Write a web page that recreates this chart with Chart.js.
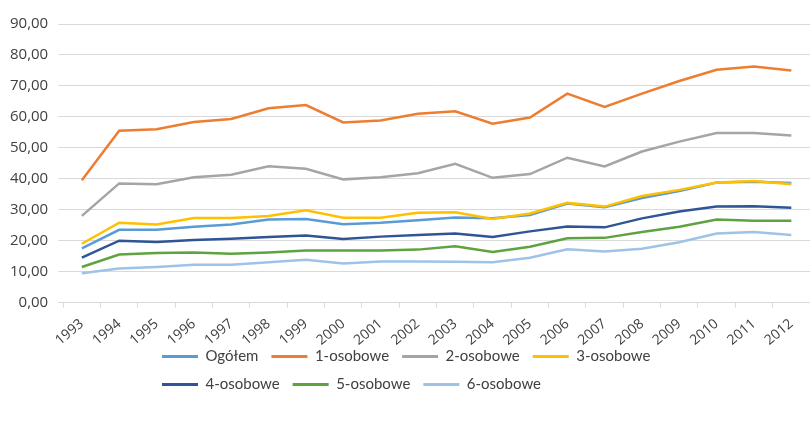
<!DOCTYPE html>
<html>
<head>
<meta charset="utf-8">
<style>
  html, body { margin: 0; padding: 0; background: #fff; }
  #wrap { width: 810px; height: 424px; }
</style>
</head>
<body>
<div id="wrap"><canvas id="myChart"></canvas></div>
<script src="https://cdn.jsdelivr.net/npm/chart.js@4/dist/chart.umd.min.js"></script>
<script>
const years = ['1993', '1994', '1995', '1996', '1997', '1998', '1999', '2000', '2001', '2002',
               '2003', '2004', '2005', '2006', '2007', '2008', '2009', '2010', '2011', '2012'];

const ogolem = [17.5, 23.5, 23.5, 24.5, 25.2, 26.8, 27.0, 25.3, 25.8, 26.6,
                27.5, 27.2, 28.3, 32.0, 30.8, 33.8, 36.0, 38.8, 39.0, 38.6];
const osob1 = [39.5, 55.5, 56.0, 58.3, 59.3, 62.8, 63.8, 58.2, 58.8, 61.0,
               61.8, 57.8, 59.8, 67.5, 63.2, 67.5, 71.6, 75.2, 76.3, 75.0];
const osob2 = [28.0, 38.5, 38.2, 40.5, 41.3, 44.0, 43.2, 39.8, 40.5, 41.8,
               44.8, 40.3, 41.5, 46.8, 44.0, 48.8, 52.0, 54.8, 54.8, 54.0];
const osob3 = [19.0, 25.8, 25.2, 27.3, 27.3, 28.0, 29.8, 27.4, 27.4, 29.0,
               29.2, 27.0, 28.8, 32.2, 31.0, 34.4, 36.4, 38.8, 39.3, 38.2];
const osob4 = [14.5, 20.0, 19.6, 20.2, 20.6, 21.2, 21.7, 20.5, 21.3, 21.8,
               22.3, 21.2, 23.0, 24.6, 24.3, 27.2, 29.4, 31.0, 31.1, 30.6];
const osob5 = [11.5, 15.5, 16.0, 16.2, 15.8, 16.2, 16.8, 16.8, 16.8, 17.1,
               18.2, 16.3, 18.0, 20.8, 20.9, 22.8, 24.5, 26.8, 26.4, 26.4];
const osob6 = [9.5, 11.0, 11.5, 12.2, 12.2, 13.0, 13.8, 12.6, 13.3, 13.3,
               13.2, 13.0, 14.5, 17.2, 16.5, 17.4, 19.5, 22.3, 22.8, 21.8];

const seriesNames = ['Ogółem', '1-osobowe', '2-osobowe', '3-osobowe', '4-osobowe', '5-osobowe', '6-osobowe'];
const seriesData = [ogolem, osob1, osob2, osob3, osob4, osob5, osob6];
const seriesColors = ['#5B9BD5', '#ED7D31', '#A5A5A5', '#FFC000', '#2F5597', '#5EA33F', '#9DC3E6'];

const textColor = '#404040';
const gridColor = '#d9d9d9';

// later series are painted over earlier ones, like in the original
const datasets = seriesData.map((d, i) => ({
    label: seriesNames[i],
    data: d,
    borderColor: seriesColors[i],
    backgroundColor: seriesColors[i],
    borderWidth: 2.5,
    pointRadius: 0,
    tension: 0,
    order: seriesData.length - i
}));

// put the legend block where the original has it (two rows, left aligned)
const legendPlace = {
    id: 'legendPlace',
    afterLayout(chart) {
        const lg = chart.legend;
        lg.left = 149;
        lg.right = 700;
        lg.top = 336;
        lg.bottom = 412;
        lg.width = lg.right - lg.left;
        lg.height = lg.bottom - lg.top;
    }
};

Chart.defaults.font.family = '"Open Sans", Lato, sans-serif';
Chart.defaults.color = textColor;

const ctx = document.getElementById('myChart').getContext('2d');
const lineChart = new Chart(ctx, {
    type: 'line',
    data: { labels: years, datasets: datasets },
    plugins: [legendPlace],
    options: {
        responsive: true,
        maintainAspectRatio: false,
        animation: false,
        layout: { padding: { top: 24, left: 0, right: 0, bottom: 27 } },
        plugins: {
            tooltip: { enabled: false },
            legend: {
                position: 'bottom',
                align: 'start',
                maxHeight: 40,
                labels: {
                    font: { family: 'Lato, sans-serif', size: 15 },
                    color: textColor,
                    boxWidth: 36,
                    boxHeight: 3,
                    padding: 13,
                    sort: (a, b) => a.datasetIndex - b.datasetIndex,
                    generateLabels(chart) {
                        const items = Chart.defaults.plugins.legend.labels.generateLabels(chart);
                        items.forEach(it => { it.lineWidth = 0; it.fillStyle = it.strokeStyle; });
                        return items;
                    }
                }
            }
        },
        scales: {
            x: {
                offset: true,
                grid: { offset: true, drawOnChartArea: false, tickLength: 5, color: gridColor },
                border: { color: gridColor },
                afterFit: s => { s.paddingRight = 0; },
                ticks: {
                    minRotation: 40,
                    maxRotation: 40,
                    padding: 8,
                    color: textColor,
                    font: { size: 14 }
                }
            },
            y: {
                min: 0,
                max: 90,
                grid: { color: gridColor, tickLength: 5 },
                border: { display: false },
                ticks: {
                    stepSize: 10,
                    padding: 10,
                    color: textColor,
                    font: { size: 15 },
                    callback: v => v.toFixed(2).replace('.', ',')
                }
            }
        }
    }
});
</script>
</body>
</html>
